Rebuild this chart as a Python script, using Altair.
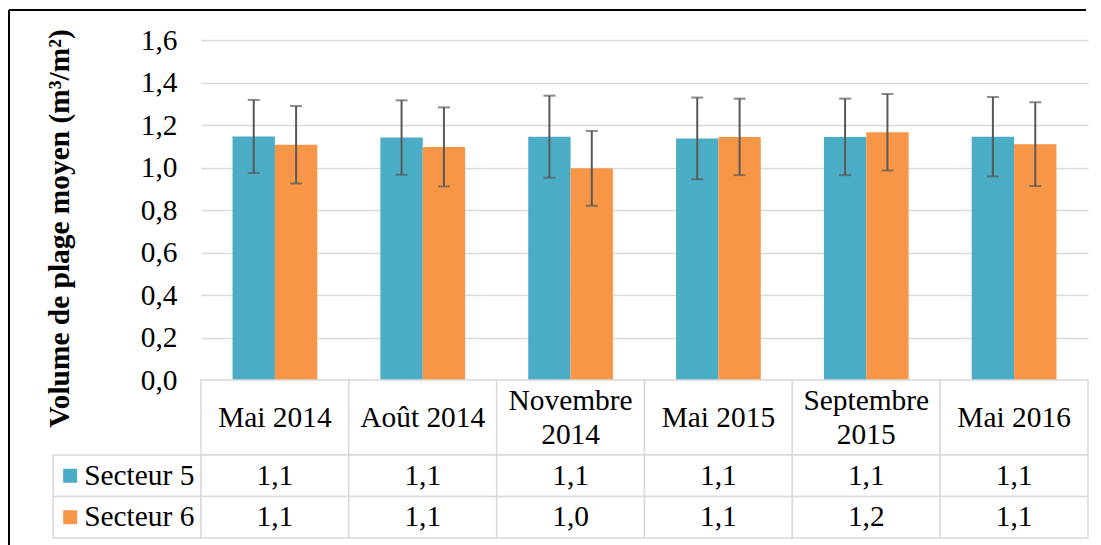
import altair as alt
import pandas as pd

# ---------------- data ----------------
dates = ["Mai 2014", "Août 2014", "Novembre 2014", "Mai 2015", "Septembre 2015", "Mai 2016"]
date_labels = ["Mai 2014", "Août 2014", "Novembre\n2014", "Mai 2015", "Septembre\n2015", "Mai 2016"]
series = ["Secteur 5", "Secteur 6"]
secteur5 = [1.146, 1.141, 1.145, 1.137, 1.144, 1.145]
secteur5_err = [0.172, 0.175, 0.193, 0.192, 0.180, 0.187]
secteur6 = [1.107, 1.097, 0.996, 1.144, 1.166, 1.110]
secteur6_err = [0.182, 0.186, 0.176, 0.180, 0.180, 0.197]
y_ticks = [0.0, 0.2, 0.4, 0.6, 0.8, 1.0, 1.2, 1.4, 1.6]
colors = ["#4BACC6", "#F79646"]
y_title = "Volume de plage moyen (m³/m²)"
legend_col = "légende"

# ---------------- style ----------------
FONT = "Liberation Serif"
FS = 29.4
GRID = "#D9D9D9"
ERR = "#595959"
PLOT_W, PLOT_H = 887, 340
HEAD_H, ROWS_H = 75, 83
LINE_H = 34

rows = []
for s, means, errs in [(series[0], secteur5, secteur5_err), (series[1], secteur6, secteur6_err)]:
    for d, m, e in zip(dates, means, errs):
        rows.append({"date": d, "col": d, "series": s, "mean": m, "lo": m - e, "hi": m + e,
                     "label": f"{m:.1f}".replace(".", ",")})
df = pd.DataFrame(rows)

# ---------------- bar panel ----------------
x_dates = alt.X("date:N", sort=dates,
                scale=alt.Scale(domain=dates, paddingInner=0, paddingOuter=0), axis=None)
x_off = alt.XOffset("series:N", sort=series,
                    scale=alt.Scale(domain=series, paddingInner=0, paddingOuter=0.745))
y_scale = alt.Scale(domain=[0, 1.6], nice=False, zero=True)
y_axis = alt.Axis(values=y_ticks, labelExpr="replace(format(datum.value, '.1f'), '.', ',')",
                  grid=True, gridColor=GRID, gridWidth=1.5, domain=False, ticks=False, tickSize=0,
                  labelFont=FONT, labelFontSize=FS, labelColor="black", labelPadding=24,
                  title=y_title, titleFont=FONT, titleFontSize=FS, titleFontWeight="bold",
                  titleColor="black", minExtent=127, maxExtent=127, titlePadding=0,
                  titleY=188)
color = alt.Color("series:N", scale=alt.Scale(domain=series, range=colors), legend=None)

bars = alt.Chart(df).mark_bar().encode(
    x=x_dates, xOffset=x_off, y=alt.Y("mean:Q", scale=y_scale, axis=y_axis), color=color)
stems = alt.Chart(df).mark_rule(color=ERR, strokeWidth=2).encode(
    x=x_dates, xOffset=x_off, y=alt.Y("lo:Q", scale=y_scale, axis=y_axis), y2="hi:Q")
cap_hi = alt.Chart(df).mark_tick(color=ERR, thickness=2, size=12, orient="horizontal").encode(
    x=x_dates, xOffset=x_off, y=alt.Y("hi:Q", scale=y_scale, axis=y_axis))
cap_lo = alt.Chart(df).mark_tick(color=ERR, thickness=2, size=12, orient="horizontal").encode(
    x=x_dates, xOffset=x_off, y=alt.Y("lo:Q", scale=y_scale, axis=y_axis))

# chart frame (left and top sides; the rest lies outside the picture)
frame_df = pd.DataFrame({"k": [0]})
frame_left = alt.Chart(frame_df).mark_rule(color="black", strokeWidth=2).encode(
    x=alt.value(-192), y=alt.value(-30), y2=alt.value(510))
frame_top = alt.Chart(frame_df).mark_rule(color="black", strokeWidth=2).encode(
    x=alt.value(-192), x2=alt.value(885), y=alt.value(-30))

top = alt.layer(bars, stems, cap_hi, cap_lo, frame_left, frame_top).properties(
    width=PLOT_W, height=PLOT_H)

# ---------------- header row ----------------
hdr_df = pd.DataFrame({"date": dates, "label": date_labels})
hdr_cells = alt.Chart(hdr_df).mark_rect(fill="white", stroke=GRID, strokeWidth=1.5).encode(x=x_dates)
hdr_one = alt.Chart(hdr_df).transform_filter("indexof(datum.label, '\\n') < 0").mark_text(
    font=FONT, fontSize=FS, color="black", baseline="middle").encode(x=x_dates, text="label:N")
hdr_two = alt.Chart(hdr_df).transform_filter("indexof(datum.label, '\\n') >= 0").mark_text(
    font=FONT, fontSize=FS, color="black", baseline="middle", lineBreak="\n",
    lineHeight=LINE_H, dy=-LINE_H / 2).encode(x=x_dates, text="label:N")
header = alt.layer(hdr_cells, hdr_one, hdr_two).properties(width=PLOT_W, height=HEAD_H)

# ---------------- data rows ----------------
cols = [legend_col] + dates
step = PLOT_W / len(dates)
col_scale = alt.Scale(domain=cols, range=[-step, PLOT_W], paddingInner=0, paddingOuter=0)
x_cols = alt.X("col:N", sort=cols, scale=col_scale, axis=None)
x_cols_start = alt.X("col:N", sort=cols, scale=col_scale, axis=None, bandPosition=0)
y_rows = alt.Y("series:N", sort=series,
               scale=alt.Scale(domain=series, paddingInner=0, paddingOuter=0), axis=None)

cell_df = pd.DataFrame([{"col": c, "series": s} for s in series for c in cols])
leg_df = pd.DataFrame({"col": [legend_col] * len(series), "series": series})

cells = alt.Chart(cell_df).mark_rect(fill="white", stroke=GRID, strokeWidth=1.5).encode(
    x=x_cols, y=y_rows)
vals = alt.Chart(df).mark_text(font=FONT, fontSize=FS, color="black").encode(
    x=x_cols, y=y_rows, text="label:N")
leg_sq = alt.Chart(leg_df).mark_square(size=196, opacity=1, xOffset=17).encode(
    x=x_cols_start, y=y_rows, color=color)
leg_txt = alt.Chart(leg_df).mark_text(font=FONT, fontSize=FS, color="black", align="left", dx=31).encode(
    x=x_cols_start, y=y_rows, text="series:N")
table = alt.layer(cells, vals, leg_sq, leg_txt).properties(width=PLOT_W, height=ROWS_H)

chart = alt.vconcat(top, header, table, spacing=0, bounds="flush").properties(
    padding={"left": 0, "top": 1, "right": 0, "bottom": 0}, background="white"
).configure_view(stroke=None)

chart.save("out.html", embed_options={"renderer": "svg", "actions": False})
